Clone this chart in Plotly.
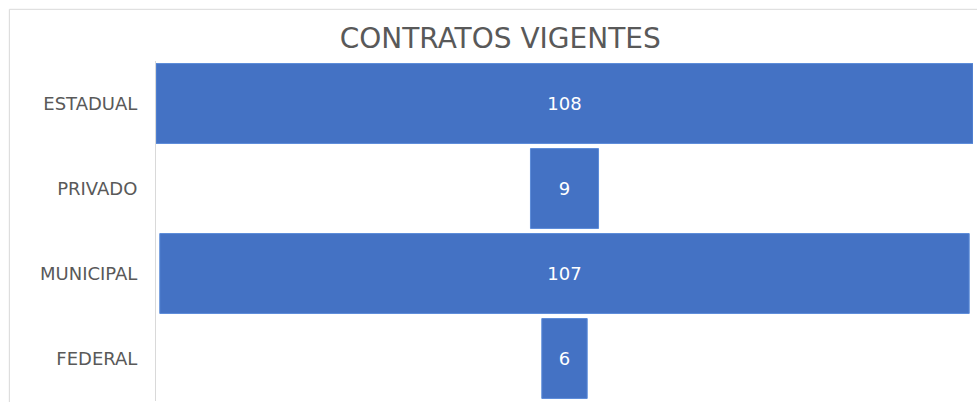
import plotly.graph_objects as go

categories = ["ESTADUAL", "PRIVADO", "MUNICIPAL", "FEDERAL"]
values = [108, 9, 107, 6]
title_text = "CONTRATOS VIGENTES"

fig = go.Figure(go.Funnel(
    y=categories,
    x=values,
    textinfo="value",
    textposition="inside",
    insidetextanchor="middle",
    textfont=dict(color="white", size=18, family="DejaVu Sans"),
    marker=dict(color="#4472C4", line=dict(color="#5B8BD9", width=1)),
    connector=dict(visible=False),
    hoverinfo="y+x",
))

fig.update_layout(
    width=977, height=402,
    paper_bgcolor="white", plot_bgcolor="white",
    margin=dict(l=156, r=4, t=61, b=1),
    title=dict(text=title_text, x=0.512, xanchor="center", y=0.905, yanchor="middle",
               font=dict(family="DejaVu Sans", size=28, color="#595959")),
    funnelgap=0.06,
    showlegend=False,
    xaxis=dict(range=[-54, 54], visible=False),
    yaxis=dict(showline=True, linecolor="#D9D9D9", linewidth=1, ticks="",
               tickfont=dict(family="DejaVu Sans", size=18, color="#595959"),
               ticklabelstandoff=14, showgrid=False),
    shapes=[
        dict(type="line", xref="paper", yref="paper", x0=-0.1795, x1=1.01, y0=1.152, y1=1.152,
             line=dict(color="#D9D9D9", width=1)),
        dict(type="line", xref="paper", yref="paper", x0=-0.1795, x1=-0.1795, y0=-0.01, y1=1.152,
             line=dict(color="#D9D9D9", width=1)),
    ],
)

fig.write_html("out.html")
